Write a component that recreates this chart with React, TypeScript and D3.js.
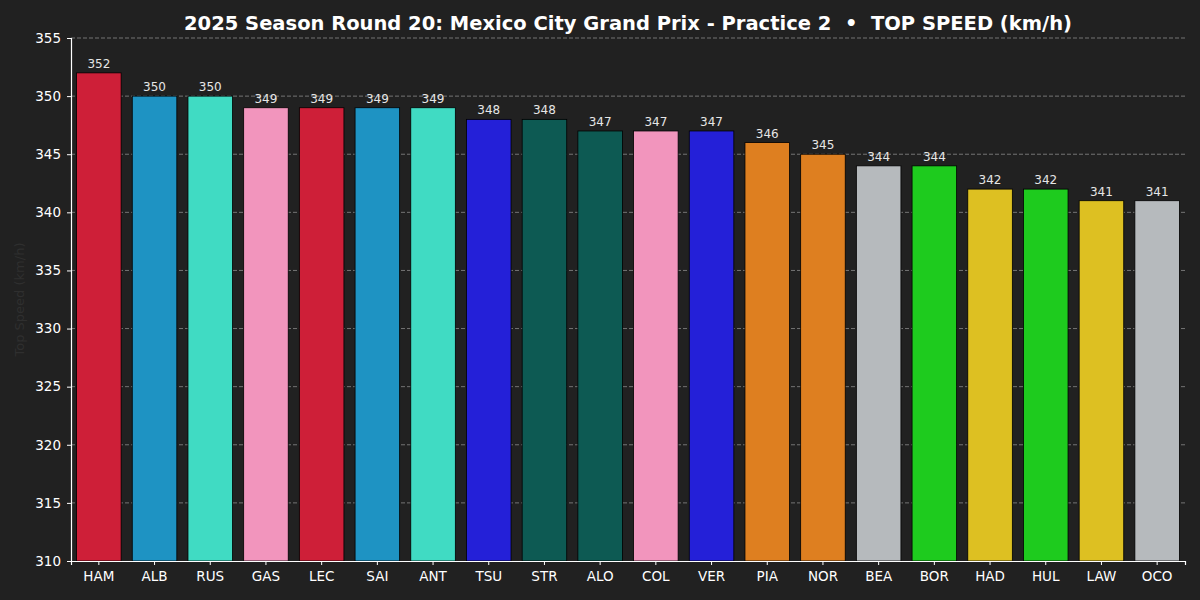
import React, { useEffect, useRef } from 'react';
import * as d3 from 'd3';

const drivers = ['HAM', 'ALB', 'RUS', 'GAS', 'LEC', 'SAI', 'ANT', 'TSU', 'STR', 'ALO', 'COL', 'VER', 'PIA', 'NOR', 'BEA', 'BOR', 'HAD', 'HUL', 'LAW', 'OCO'];
const speeds = [352, 350, 350, 349, 349, 349, 349, 348, 348, 347, 347, 347, 346, 345, 344, 344, 342, 342, 341, 341];
const teamColors = ['#CE1F38', '#1E93C3', '#40DBC3', '#F295BD', '#CE1F38', '#1E93C3', '#40DBC3', '#2420D8', '#0D5A53', '#0D5A53', '#F295BD', '#2420D8', '#DE7F20', '#DE7F20', '#B6BABD', '#1ECB1E', '#DDC022', '#1ECB1E', '#DDC022', '#B6BABD'];
const yTicks = [310, 315, 320, 325, 330, 335, 340, 345, 350, 355];

const App = () => {
  const ref = useRef<SVGSVGElement>(null);

  useEffect(() => {
    const width = 1200;
    const height = 600;
    const margin = { top: 38, right: 15, bottom: 39, left: 71 };

    const svg = d3.select(ref.current);
    svg.selectAll('*').remove();

    svg.append('rect').attr('width', width).attr('height', height).attr('fill', '#212121');

    const x = d3.scaleBand()
      .domain(drivers)
      .range([margin.left, width - margin.right])
      .paddingInner(0.2)
      .paddingOuter(0.1);

    const y = d3.scaleLinear()
      .domain([310, 355])
      .range([height - margin.bottom, margin.top]);

    // grid
    svg.append('g')
      .selectAll('line')
      .data(yTicks.slice(1))
      .enter()
      .append('line')
      .attr('x1', margin.left)
      .attr('x2', width - margin.right)
      .attr('y1', d => y(d))
      .attr('y2', d => y(d))
      .attr('stroke', '#8a8a8a')
      .attr('stroke-width', 0.8)
      .attr('stroke-dasharray', '4,2');

    // bars
    svg.append('g')
      .selectAll('rect')
      .data(drivers)
      .enter()
      .append('rect')
      .attr('x', d => x(d)!)
      .attr('width', x.bandwidth())
      .attr('y', (d, i) => y(speeds[i]))
      .attr('height', (d, i) => y(310) - y(speeds[i]))
      .attr('fill', (d, i) => teamColors[i])
      .attr('stroke', '#000')
      .attr('stroke-width', 0.8);

    // value labels
    svg.append('g')
      .selectAll('text')
      .data(drivers)
      .enter()
      .append('text')
      .attr('x', d => x(d)! + x.bandwidth() / 2)
      .attr('y', (d, i) => y(speeds[i]) - 5)
      .attr('text-anchor', 'middle')
      .attr('fill', '#e6e6e6')
      .attr('font-size', 12)
      .attr('font-family', 'DejaVu Sans')
      .text((d, i) => speeds[i]);

    // axes
    const yAxis = svg.append('g')
      .attr('transform', `translate(${margin.left},0)`)
      .call(d3.axisLeft(y).tickValues(yTicks).tickSize(4).tickPadding(6));
    const xAxis = svg.append('g')
      .attr('transform', `translate(0,${height - margin.bottom})`)
      .call(d3.axisBottom(x).tickSize(4).tickPadding(6));

    [yAxis, xAxis].forEach(a => {
      a.select('.domain').attr('stroke', '#ffffff').attr('stroke-width', 1.2);
      a.selectAll('.tick line').attr('stroke', '#ffffff');
      a.selectAll('.tick text')
        .attr('fill', '#ffffff')
        .attr('font-size', 13.5)
        .attr('font-family', 'DejaVu Sans');
    });

    // y label (faint)
    svg.append('text')
      .attr('transform', `translate(24,${(margin.top + height - margin.bottom) / 2}) rotate(-90)`)
      .attr('text-anchor', 'middle')
      .attr('fill', '#2f2f2f')
      .attr('font-size', 13)
      .attr('font-family', 'DejaVu Sans')
      .text('Top Speed (km/h)');

    // title
    svg.append('text')
      .attr('x', 628)
      .attr('y', 30)
      .attr('text-anchor', 'middle')
      .attr('fill', '#ffffff')
      .attr('font-size', 19.5)
      .attr('font-weight', 'bold')
      .attr('font-family', 'DejaVu Sans')
      .style('white-space', 'pre')
      .text('2025 Season Round 20: Mexico City Grand Prix - Practice 2  •  TOP SPEED (km/h)');

    return () => {
      svg.selectAll('*').remove();
    };
  }, []);

  return (
    <svg ref={ref} width={1200} height={600} style={{ position: 'absolute', left: 0, top: 0, display: 'block' }} />
  );
};

export default App;
